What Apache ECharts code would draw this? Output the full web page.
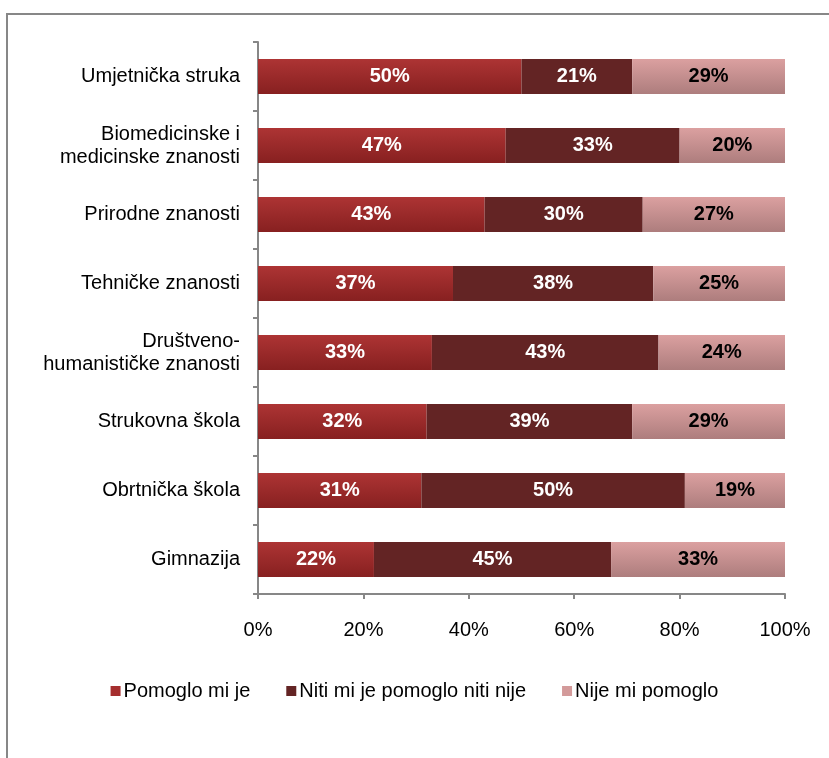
<!DOCTYPE html>
<html><head><meta charset="utf-8">
<script src="https://cdn.jsdelivr.net/npm/echarts@6/dist/echarts.min.js"></script>
<style>html,body{margin:0;padding:0;background:#fff}#c{width:829px;height:758px}</style>
</head><body><div id="c"></div>
<script>
const categories = ["Umjetnička struka","Biomedicinske i\nmedicinske znanosti","Prirodne znanosti","Tehničke znanosti","Društveno-\nhumanističke znanosti","Strukovna škola","Obrtnička škola","Gimnazija"];
const seriesNames = ["Pomoglo mi je","Niti mi je pomoglo niti nije","Nije mi pomoglo"];
const pomoglo = [50,47,43,37,33,32,31,22];
const niti = [21,33,30,38,43,39,50,45];
const nije = [29,20,27,25,24,29,19,33];
const xTicks = [0,20,40,60,80,100];

const chart = echarts.init(document.getElementById('c'));
const font = '"Liberation Sans", Arial, sans-serif';
function grad(a,b){return new echarts.graphic.LinearGradient(0,0,0,1,[{offset:0,color:a},{offset:1,color:b}]);}
const colors = [grad('#ad3434','#872020'), '#632424', grad('#dba0a0','#ad7d7d')];
const legendColors = ['#a52e2e','#632424','#d39a9a'];
const vals = [pomoglo, niti, nije];
chart.setOption({
  animation:false,
  graphic:[{type:'rect',shape:{x:7,y:14,width:900,height:900},style:{fill:'none',stroke:'#878787',lineWidth:2},z:-1}],
  grid:{left:258,right:44,top:42,bottom:164},
  xAxis:{type:'value',min:xTicks[0],max:xTicks[xTicks.length-1],interval:20,
    axisLine:{show:true,lineStyle:{color:'#878787',width:2}},
    axisTick:{show:true,length:5,lineStyle:{color:'#878787',width:2}},
    splitLine:{show:false},
    axisLabel:{formatter:'{value}%',color:'#000',fontFamily:font,fontSize:20,margin:26}},
  yAxis:{type:'category',data:categories,inverse:true,
    axisLine:{show:true,lineStyle:{color:'#878787',width:2}},
    axisTick:{show:true,length:5,lineStyle:{color:'#878787',width:2}},
    axisLabel:{color:'#000',fontFamily:font,fontSize:20,margin:18,align:'right',lineHeight:23}},
  legend:{bottom:52,left:'center',itemWidth:10,itemHeight:10,itemGap:36,icon:'rect',
    textStyle:{color:'#000',fontFamily:font,fontSize:20,padding:[0,0,0,-2]},
    data:seriesNames.map((n,i)=>({name:n,itemStyle:{color:legendColors[i]}}))},
  series:seriesNames.map((n,i)=>({
    name:n,type:'bar',stack:'t',barWidth:35,
    data:vals[i],
    itemStyle:{color:colors[i]},
    label:{show:true,position:'inside',formatter:'{c}%',color:i===2?'#000':'#fff',fontWeight:'bold',fontFamily:font,fontSize:20}
  }))
});
</script></body></html>
